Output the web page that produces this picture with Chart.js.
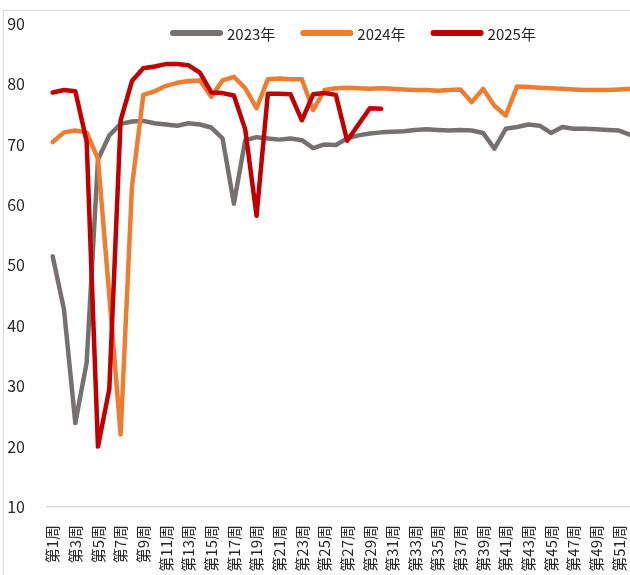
<!DOCTYPE html>
<html>
<head>
<meta charset="utf-8">
<script src="https://cdn.jsdelivr.net/npm/chart.js@4.4.1/dist/chart.umd.min.js"></script>
<style>
    html, body { margin: 0; padding: 0; background: #fff; overflow: hidden; }
    #frame { position: absolute; left: 3px; top: 10px; width: 700px; height: 700px;
             border-left: 1px solid #d9d9d9; border-top: 1px solid #d9d9d9; }
    #wrap { position: absolute; left: 0; top: 0; width: 636px; height: 580px; }
</style>
</head>
<body>
<div id="frame"></div>
<div id="wrap"><canvas id="chart"></canvas></div>
<script>
const weeks = [
    "第1周", "第2周", "第3周", "第4周", "第5周", "第6周", "第7周", "第8周", "第9周", "第10周",
    "第11周", "第12周", "第13周", "第14周", "第15周", "第16周", "第17周", "第18周", "第19周", "第20周",
    "第21周", "第22周", "第23周", "第24周", "第25周", "第26周", "第27周", "第28周", "第29周", "第30周",
    "第31周", "第32周", "第33周", "第34周", "第35周", "第36周", "第37周", "第38周", "第39周", "第40周",
    "第41周", "第42周", "第43周", "第44周", "第45周", "第46周", "第47周", "第48周", "第49周", "第50周",
    "第51周", "第52周"
];

const seriesNames = ["2023年", "2024年", "2025年"];

const values2023 = [
    51.5, 42.7, 23.9, 33.9, 67.5, 71.5, 73.4, 73.8, 73.9, 73.5,
    73.3, 73.1, 73.5, 73.3, 72.8, 71.0, 60.2, 70.7, 71.2, 71.0,
    70.8, 71.0, 70.7, 69.4, 70.0, 69.9, 71.0, 71.5, 71.8, 72.0,
    72.1, 72.2, 72.4, 72.5, 72.4, 72.3, 72.4, 72.3, 71.9, 69.3,
    72.6, 72.9, 73.3, 73.1, 71.9, 72.9, 72.6, 72.6, 72.5, 72.4,
    72.3, 71.6
];

const values2024 = [
    70.4, 72.0, 72.3, 72.0, 67.6, 45.0, 22.0, 63.0, 78.2, 78.8,
    79.7, 80.2, 80.5, 80.6, 77.9, 80.6, 81.2, 79.3, 76.0, 80.8,
    80.9, 80.8, 80.8, 75.7, 79.0, 79.3, 79.4, 79.3, 79.2, 79.3,
    79.2, 79.1, 79.0, 79.0, 78.9, 79.0, 79.1, 77.0, 79.2, 76.4,
    74.8, 79.6, 79.5, 79.4, 79.3, 79.2, 79.1, 79.0, 79.0, 79.0,
    79.1, 79.2
];

const values2025 = [
    78.6, 79.0, 78.8, 70.5, 20.0, 29.5, 74.0, 80.5, 82.6, 82.9,
    83.3, 83.3, 83.1, 81.9, 78.6, 78.5, 78.1, 72.5, 58.2, 78.4,
    78.4, 78.3, 74.0, 78.3, 78.5, 78.2, 70.6, 73.3, 76.0, 75.9
];

const colors = ["#767171", "#ED7D31", "#C00000"];
const FONT = '"Noto Sans CJK SC", "Noto Sans", sans-serif';

// legend drawn over the plot, like the original
const topLegend = {
    id: "topLegend",
    afterDraw(chart) {
        const ctx = chart.ctx;
        let x = 173;
        const y = 33;
        ctx.save();
        ctx.font = "15px " + FONT;
        ctx.textBaseline = "middle";
        chart.data.datasets.forEach(ds => {
            ctx.strokeStyle = ds.borderColor;
            ctx.lineWidth = 6;
            ctx.lineCap = "round";
            ctx.beginPath();
            ctx.moveTo(x, y);
            ctx.lineTo(x + 47, y);
            ctx.stroke();
            ctx.fillStyle = "#262626";
            ctx.fillText(ds.label, x + 54, y + 1);
            x += 54 + ctx.measureText(ds.label).width + 28;
        });
        ctx.restore();
    }
};

function makeSet(label, data, color, order) {
    return {
        label: label,
        data: data,
        borderColor: color,
        backgroundColor: color,
        borderWidth: 4.5,
        borderCapStyle: "round",
        borderJoinStyle: "round",
        pointRadius: 0,
        tension: 0,
        order: order
    };
}

new Chart(document.getElementById("chart").getContext("2d"), {
    type: "line",
    data: {
        labels: weeks,
        datasets: [
            makeSet(seriesNames[0], values2023, colors[0], 3),
            makeSet(seriesNames[1], values2024, colors[1], 2),
            makeSet(seriesNames[2], values2025, colors[2], 1)
        ]
    },
    options: {
        responsive: true,
        maintainAspectRatio: false,
        animation: false,
        layout: { padding: { top: 23, left: 0, right: 0, bottom: 0 } },
        plugins: {
            legend: { display: false },
            tooltip: { enabled: false }
        },
        scales: {
            x: {
                offset: true,
                grid: { display: false },
                border: { display: true, color: "#d9d9d9", width: 1.5 },
                ticks: {
                    autoSkip: false,
                    minRotation: 90,
                    maxRotation: 90,
                    padding: 10,
                    color: "#262626",
                    font: { family: FONT, size: 15 },
                    callback: (v, i) => (i % 2 === 0 ? weeks[i] : "")
                },
                afterFit: scale => {
                    scale.height = 73;
                    scale.paddingLeft = 0;
                    scale.paddingRight = 0;
                }
            },
            y: {
                min: 10,
                max: 90,
                grid: { display: false },
                border: { display: false },
                ticks: {
                    stepSize: 10,
                    padding: 14,
                    color: "#262626",
                    font: { family: FONT, size: 16 }
                },
                afterFit: scale => { scale.width = 47; }
            }
        }
    },
    plugins: [topLegend]
});
</script>
</body>
</html>
